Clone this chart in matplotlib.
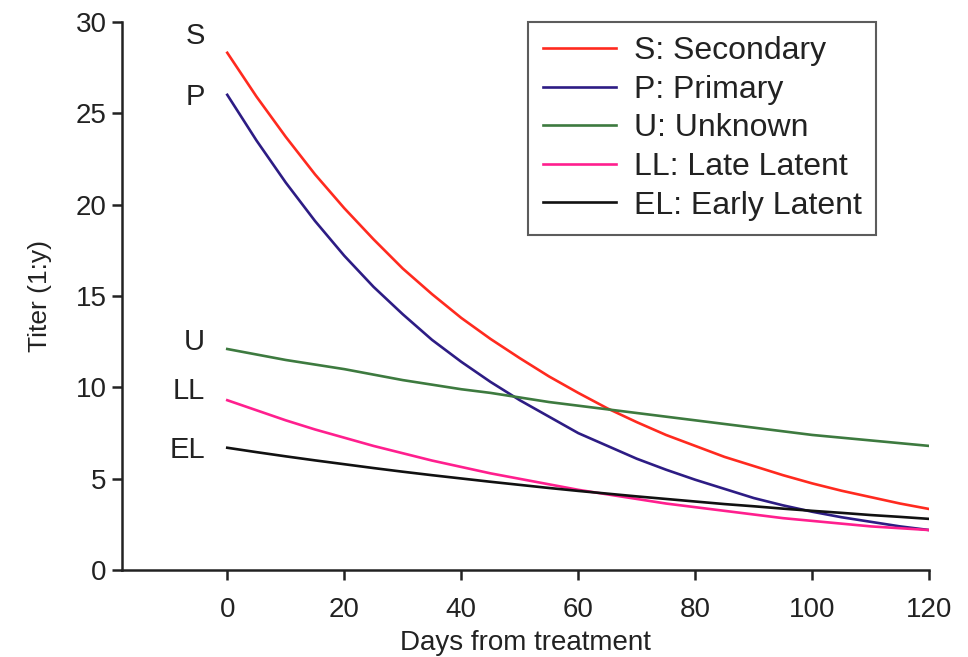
import matplotlib.pyplot as plt

plt.rcParams['font.family'] = ['Liberation Sans', 'DejaVu Sans']

# Days from treatment (read every 5 days)
days = list(range(0, 121, 5))

# Titer curves
secondary = [28.3, 25.9, 23.7, 21.65, 19.8, 18.1, 16.5, 15.1, 13.8, 12.65, 11.6, 10.6, 9.7,
             8.85, 8.1, 7.4, 6.8, 6.2, 5.7, 5.2, 4.75, 4.35, 4.0, 3.65, 3.35]
primary = [26.0, 23.5, 21.2, 19.1, 17.2, 15.5, 14.0, 12.6, 11.4, 10.3, 9.3, 8.4, 7.5,
           6.8, 6.1, 5.5, 4.95, 4.45, 3.95, 3.55, 3.2, 2.9, 2.65, 2.4, 2.2]
unknown = [12.1, 11.8, 11.5, 11.25, 11.0, 10.7, 10.4, 10.15, 9.9, 9.7, 9.45, 9.2, 9.0,
           8.8, 8.6, 8.4, 8.2, 8.0, 7.8, 7.6, 7.4, 7.25, 7.1, 6.95, 6.8]
late_latent = [9.3, 8.75, 8.2, 7.7, 7.25, 6.8, 6.4, 6.0, 5.65, 5.3, 5.0, 4.7, 4.4,
               4.15, 3.9, 3.65, 3.45, 3.25, 3.05, 2.85, 2.7, 2.55, 2.4, 2.3, 2.2]
early_latent = [6.7, 6.46, 6.23, 6.01, 5.8, 5.59, 5.39, 5.2, 5.02, 4.84, 4.67, 4.5, 4.34,
                4.19, 4.04, 3.9, 3.76, 3.62, 3.5, 3.37, 3.25, 3.14, 3.02, 2.92, 2.81]

short_names = ['S', 'P', 'U', 'LL', 'EL']
long_names = ['S: Secondary', 'P: Primary', 'U: Unknown', 'LL: Late Latent', 'EL: Early Latent']
series = [secondary, primary, unknown, late_latent, early_latent]
colors = ['#ff2a1f', '#2d1c84', '#3d7a3f', '#ff1f8e', '#111111']

fig = plt.figure(figsize=(9.68, 6.57), dpi=100)
ax = fig.add_axes([0.126, 0.132, 0.834, 0.835])

for vals, name, c in zip(series, long_names, colors):
    ax.plot(days, vals, color=c, lw=1.9, label=name)

# short labels next to the start of each curve
label_y = [29.2, 25.9, 12.5, 9.8, 6.6]
for name, yv in zip(short_names, label_y):
    ax.text(-3.8, yv, name, ha='right', va='center', fontsize=21, color='#222222')

ax.set_xlim(-18, 120)
ax.set_ylim(0, 30)
ax.set_xticks(range(0, 121, 20))
ax.set_yticks(range(0, 31, 5))
ax.spines['top'].set_visible(False)
ax.spines['right'].set_visible(False)
for s in ['left', 'bottom']:
    ax.spines[s].set_linewidth(1.8)
    ax.spines[s].set_color('#222222')
ax.tick_params(direction='out', length=7, width=1.8, labelsize=20, colors='#222222')
ax.tick_params(axis='x', pad=12)
ax.tick_params(axis='y', pad=4)
ax.set_xlabel('Days from treatment', fontsize=20, labelpad=5, color='#222222')
ax.set_ylabel('Titer (1:y)', fontsize=19, labelpad=17, color='#222222')

leg = ax.legend(loc='upper right', bbox_to_anchor=(0.934, 1.0), borderaxespad=0,
                fontsize=23, frameon=True, fancybox=False, handlelength=2.3,
                labelspacing=0.27, borderpad=0.45, handletextpad=0.55)
leg.get_frame().set_edgecolor('#333333')
leg.get_frame().set_linewidth(1.5)
for t in leg.get_texts():
    t.set_color('#222222')

fig.savefig('out.png', dpi=100)
